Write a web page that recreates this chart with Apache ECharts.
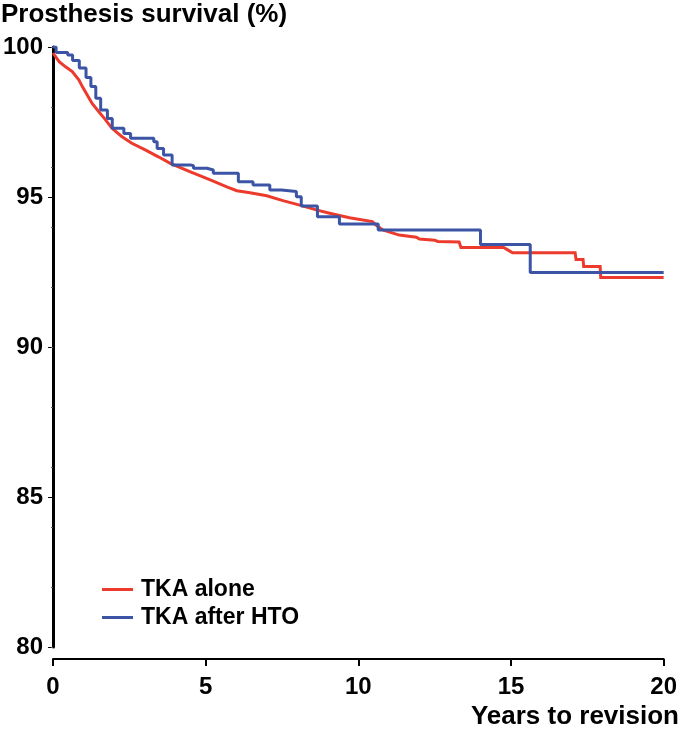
<!DOCTYPE html>
<html>
<head>
<meta charset="utf-8">
<script src="https://cdn.jsdelivr.net/npm/echarts@6/dist/echarts.min.js"></script>
<style>html,body{margin:0;padding:0;background:#fff}#c{width:680px;height:729px}</style>
</head>
<body>
<div id="c"></div>
<script>
// Data (Kaplan–Meier curves)
// TKA alone: many tiny steps -> traced as a polyline, with its visible late drops as corners
var redTimes  = [0, 0.2, 0.41, 0.63, 0.85, 0.96, 1.12, 1.28, 1.5, 1.72, 1.93, 2.26, 2.58, 3.02, 3.45, 3.84, 4.5, 5.15, 5.69, 6.02, 6.45, 7.0, 7.53, 8.08, 8.62, 9.06, 9.71, 10.46, 10.6, 10.8, 11.34, 11.9, 12.0, 12.5, 12.6, 13.3, 13.36, 14.76, 14.92, 15.05, 17.1, 17.13, 17.36, 17.38, 17.92, 17.94, 20];
var redValues = [99.8, 99.51, 99.34, 99.18, 98.9, 98.68, 98.4, 98.12, 97.84, 97.57, 97.29, 97.01, 96.79, 96.57, 96.34, 96.12, 95.84, 95.57, 95.34, 95.21, 95.14, 95.04, 94.88, 94.73, 94.57, 94.46, 94.31, 94.18, 94.05, 93.9, 93.73, 93.66, 93.6, 93.56, 93.52, 93.5, 93.32, 93.32, 93.22, 93.14, 93.14, 92.92, 92.92, 92.68, 92.68, 92.32, 92.32];
// TKA after HTO: step function
var blueTimes  = [0, 0.1, 0.48, 0.64, 0.86, 1.08, 1.24, 1.4, 1.56, 1.78, 1.94, 2.32, 2.54, 3.3, 3.41, 3.62, 3.9, 4.5, 4.6, 5.04, 5.25, 6.07, 6.55, 7.1, 7.48, 7.97, 8.13, 8.66, 9.38, 10.65, 14.0, 15.63, 20];
var blueValues = [100, 99.82, 99.73, 99.55, 99.3, 98.98, 98.68, 98.29, 97.9, 97.62, 97.29, 97.12, 96.96, 96.84, 96.62, 96.4, 96.07, 96.04, 95.96, 95.9, 95.79, 95.51, 95.4, 95.23, 95.18, 95.01, 94.7, 94.34, 94.1, 93.9, 93.42, 92.48, 92.48];
var seriesNames = ['TKA alone', 'TKA after HTO'];
var xTicks = [0, 5, 10, 15, 20];
var yTicks = [80, 85, 90, 95, 100];

function pairs(t, v) { return t.map(function (x, i) { return [x, v[i]]; }); }

var FONT = '"Liberation Sans", Arial, Helvetica, sans-serif';
var chart = echarts.init(document.getElementById('c'), null, { renderer: 'canvas' });
chart.setOption({
  animation: false,
  backgroundColor: '#ffffff',
  title: {
    text: 'Prosthesis survival (%)',
    left: -4, top: -3,
    textStyle: { fontFamily: FONT, fontSize: 26, fontWeight: 'bold', color: '#000' }
  },
  legend: {
    orient: 'vertical',
    left: 97, top: 573,
    icon: 'rect',
    itemWidth: 31, itemHeight: 3,
    itemGap: 5,
    textStyle: { fontFamily: FONT, fontSize: 23, fontWeight: 'bold', color: '#000', padding: [0, 0, 0, 3] },
    data: seriesNames
  },
  graphic: [{
    type: 'text', right: 1, top: 704,
    style: { text: 'Years to revision', fontFamily: FONT, fontSize: 26, fontWeight: 'bold', fill: '#000' }
  }],
  grid: { left: 52, right: 14, top: 47, bottom: 82, containLabel: false },
  xAxis: {
    type: 'value', min: xTicks[0], max: xTicks[xTicks.length - 1], interval: 5,
    offset: 12,
    axisLine: { show: true, onZero: false, lineStyle: { color: '#000', width: 2 } },
    axisTick: { show: true, length: 7, lineStyle: { color: '#000', width: 2 } },
    axisLabel: { margin: 16, fontFamily: FONT, fontSize: 24, fontWeight: 'bold', color: '#000' },
    splitLine: { show: false }
  },
  yAxis: [{
    type: 'value', min: yTicks[0], max: yTicks[yTicks.length - 1], interval: 5,
    axisLine: { show: true, onZero: false, lineStyle: { color: '#000', width: 3 } },
    axisTick: { show: true, length: 5, lineStyle: { color: '#000', width: 1 } },
    axisLabel: { margin: 10, fontFamily: FONT, fontSize: 24, fontWeight: 'bold', color: '#000' },
    splitLine: { show: false }
  }, {
    type: 'value', min: 80, max: 100, interval: 2, position: 'left',
    axisLine: { show: false },
    axisTick: { show: true, inside: false, length: 2, lineStyle: { color: '#555', width: 1 } },
    axisLabel: { show: false },
    splitLine: { show: false }
  }],
  series: [{
    name: seriesNames[0], type: 'line', showSymbol: false, symbol: 'none',
    data: pairs(redTimes, redValues),
    lineStyle: { color: '#ec3a2d', width: 3, join: 'miter' }, itemStyle: { color: '#ec3a2d' }, z: 2
  }, {
    name: seriesNames[1], type: 'line', step: 'end', showSymbol: false, symbol: 'none',
    data: pairs(blueTimes, blueValues),
    lineStyle: { color: '#3b54a5', width: 3 }, itemStyle: { color: '#3b54a5' }, z: 3
  }]
});
</script>
</body>
</html>
